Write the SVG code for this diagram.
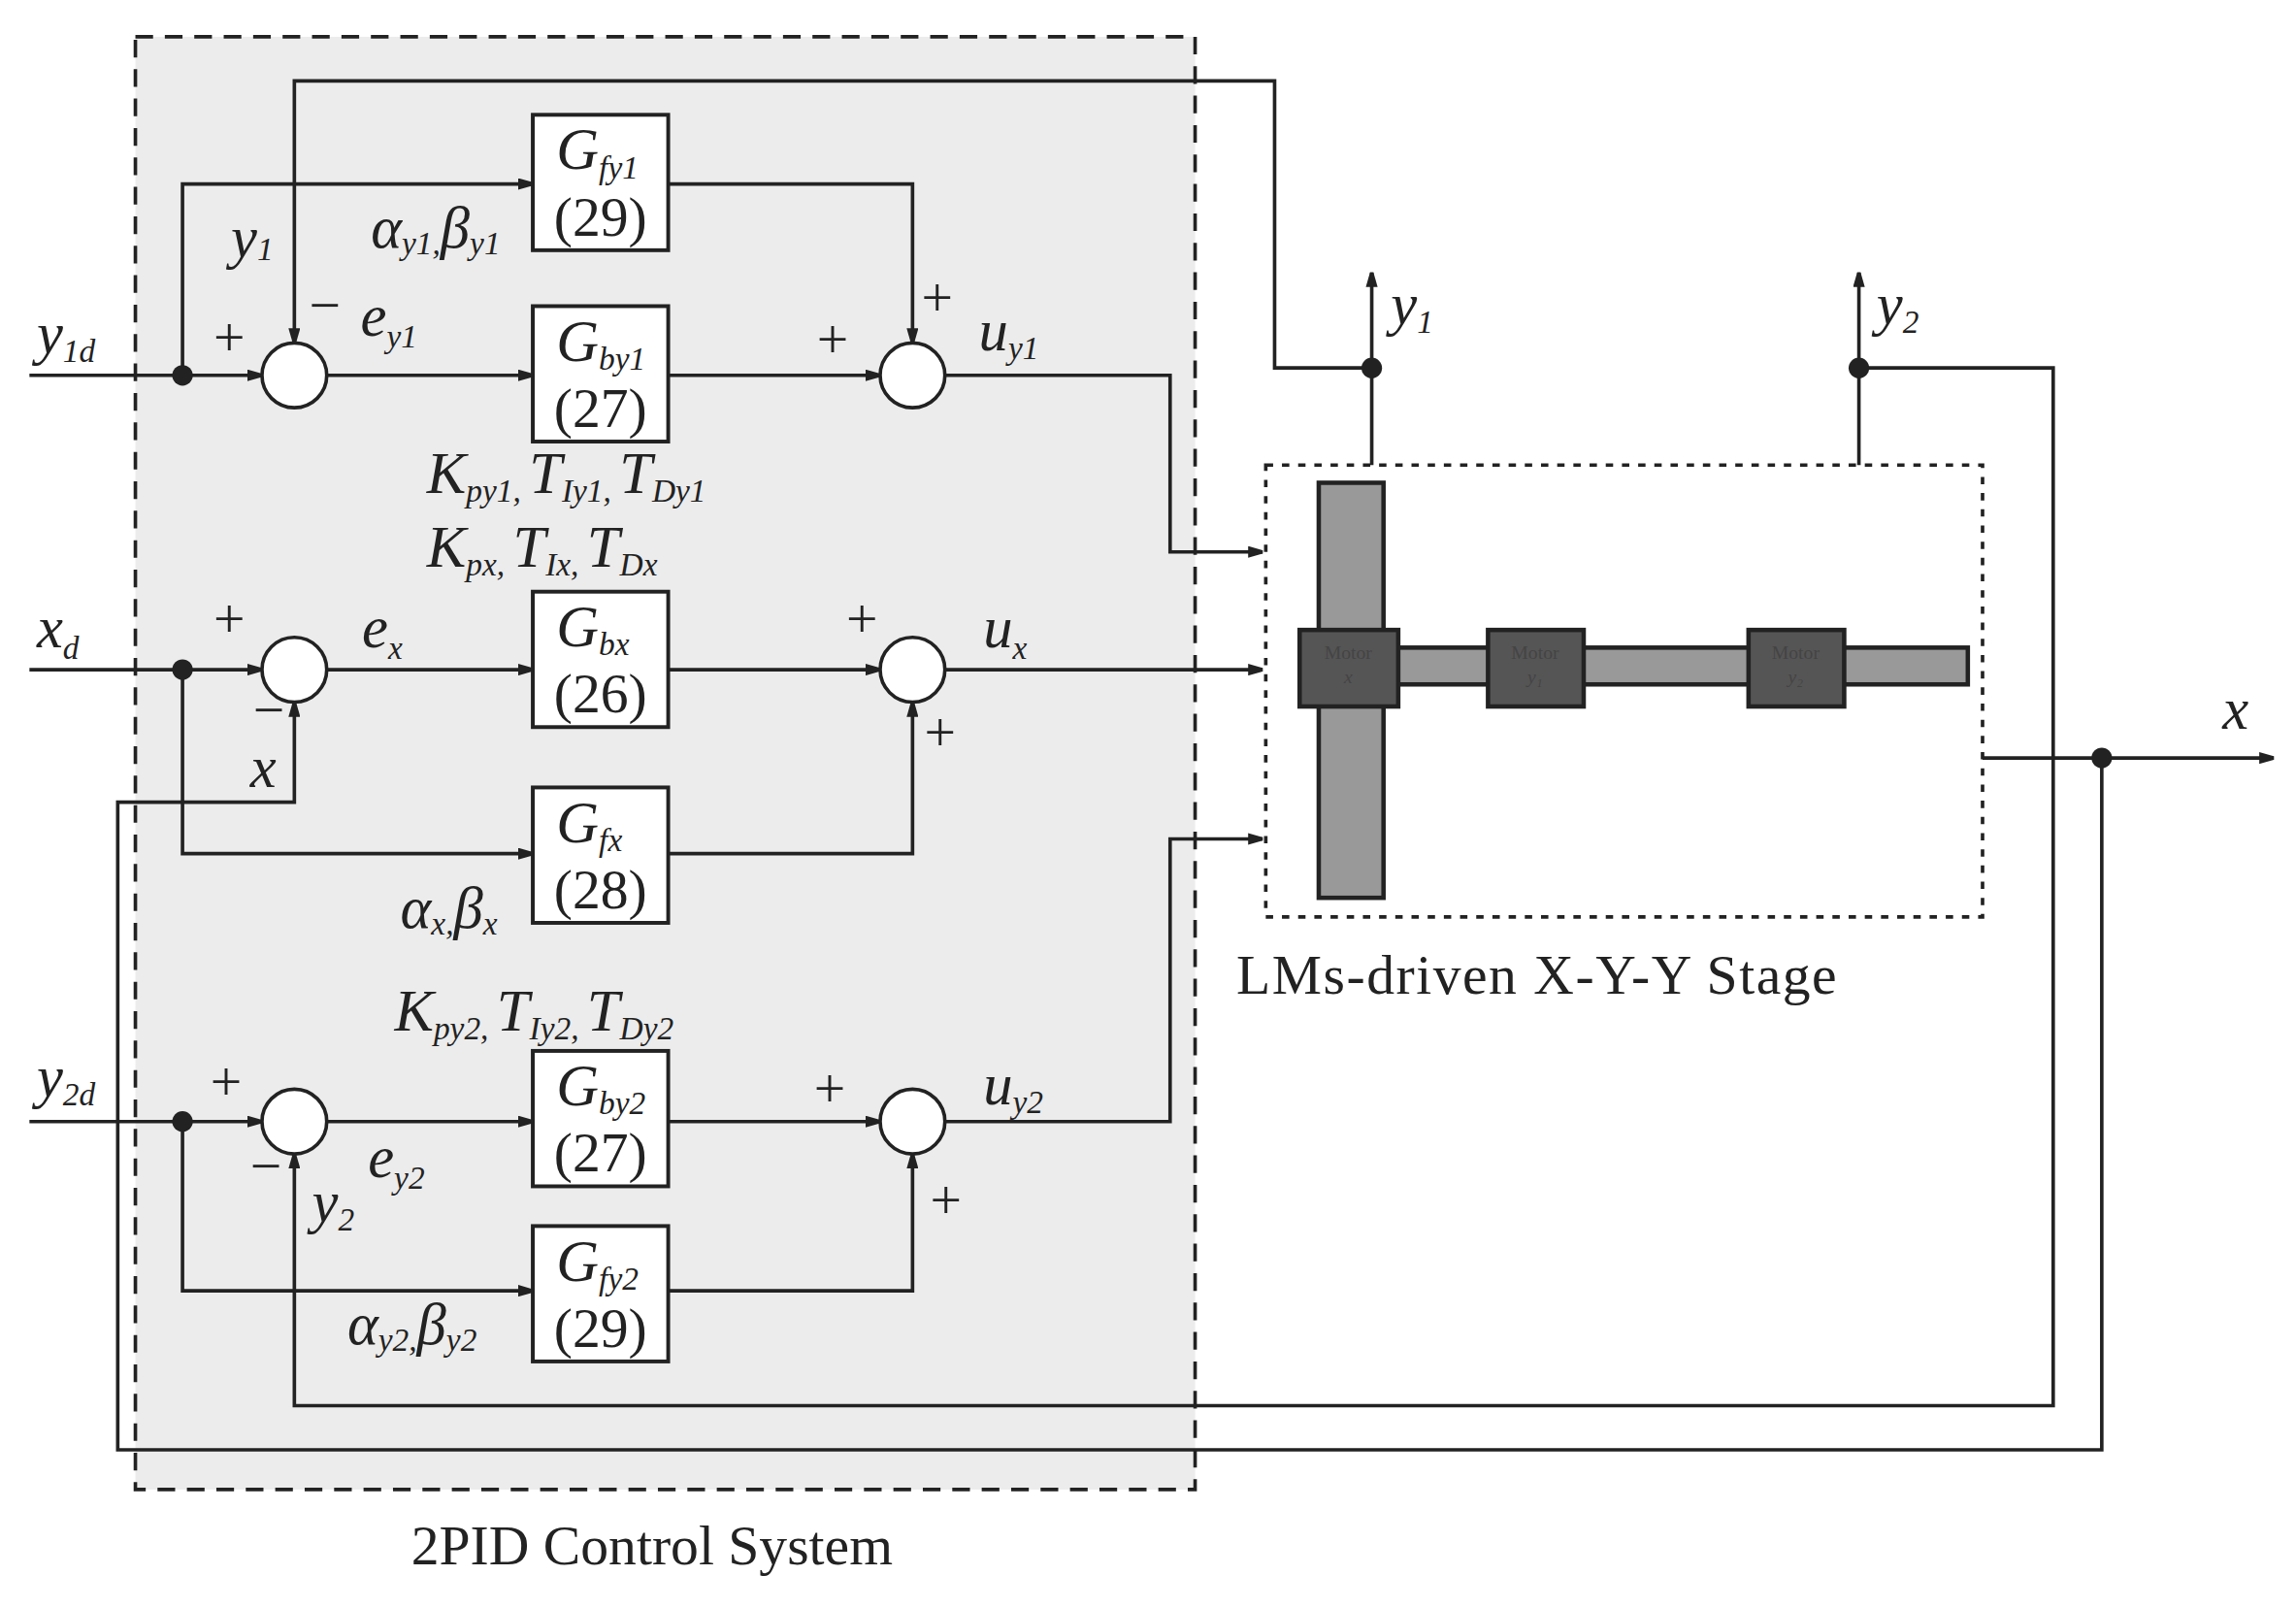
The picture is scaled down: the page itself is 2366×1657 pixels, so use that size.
<svg xmlns="http://www.w3.org/2000/svg" width="2366" height="1657" viewBox="0 0 2366 1657">
<style>
.w{fill:none;stroke:#222;stroke-width:2.4}
.b{fill:#fff;stroke:#222;stroke-width:2.6}
.t{font-family:"Liberation Serif",serif;font-style:italic;fill:#222;font-size:40px}
.n{font-family:"Liberation Serif",serif;fill:#222;font-size:38px}
.s{font-size:22px}
.p{font-family:"Liberation Sans",sans-serif;fill:#222;font-size:34px}
.m{font-family:"Liberation Serif",serif;fill:#444;font-size:13px;text-anchor:middle}
</style>
<defs><marker id="a" markerWidth="10" markerHeight="8" refX="10" refY="4" orient="auto" markerUnits="userSpaceOnUse"><path d="M0,0L14,4L0,8z" fill="#222"/></marker></defs>
<rect width="2366" height="1657" fill="#fff"/>
<g transform="scale(1.5167)">
<g id="pid"><rect x="92" y="25" width="720" height="987" fill="#ececec" stroke="#222" stroke-width="2.4" stroke-dasharray="12,8"/>
<text class="n" x="443" y="1063" text-anchor="middle" font-size="40">2PID Control System</text></g>
<g id="stage"><rect x="860" y="316" width="487" height="307" fill="#fff" stroke="#222" stroke-width="2.4" stroke-dasharray="5,6"/>
<rect x="896" y="328" width="44" height="282" fill="#999" stroke="#222" stroke-width="3"/>
<rect x="940" y="440" width="397" height="25" fill="#999" stroke="#222" stroke-width="3"/>
<rect x="883" y="428" width="67" height="52" fill="#555" stroke="#222" stroke-width="3"/>
<rect x="1011" y="428" width="65" height="52" fill="#555" stroke="#222" stroke-width="3"/>
<rect x="1188" y="428" width="65" height="52" fill="#555" stroke="#222" stroke-width="3"/>
<text class="m" x="916" y="448">Motor</text><text class="m" x="916" y="464" font-style="italic">x</text>
<text class="m" x="1043" y="448">Motor</text><text class="m" x="1043" y="464" font-style="italic">y₁</text>
<text class="m" x="1220" y="448">Motor</text><text class="m" x="1220" y="464" font-style="italic">y₂</text>
<text class="n" x="840" y="675" font-size="40" letter-spacing="1">LMs-driven X-Y-Y Stage</text></g>
<g id="gfy1"><rect class="b" x="362" y="78" width="92" height="92"/><text class="t" x="378" y="115" font-size="36">G<tspan class="s" font-size="18" dy="6">fy1</tspan></text><text class="n" x="408" y="160" text-anchor="middle">(29)</text></g>
<g id="gby1"><rect class="b" x="362" y="208" width="92" height="92"/><text class="t" x="378" y="245" font-size="36">G<tspan class="s" font-size="18" dy="6">by1</tspan></text><text class="n" x="408" y="290" text-anchor="middle">(27)</text></g>
<g id="gbx"><rect class="b" x="362" y="402" width="92" height="92"/><text class="t" x="378" y="439" font-size="36">G<tspan class="s" font-size="18" dy="6">bx</tspan></text><text class="n" x="408" y="484" text-anchor="middle">(26)</text></g>
<g id="gfx"><rect class="b" x="362" y="535" width="92" height="92"/><text class="t" x="378" y="572" font-size="36">G<tspan class="s" font-size="18" dy="6">fx</tspan></text><text class="n" x="408" y="617" text-anchor="middle">(28)</text></g>
<g id="gby2"><rect class="b" x="362" y="714" width="92" height="92"/><text class="t" x="378" y="751" font-size="36">G<tspan class="s" font-size="18" dy="6">by2</tspan></text><text class="n" x="408" y="796" text-anchor="middle">(27)</text></g>
<g id="gfy2"><rect class="b" x="362" y="833" width="92" height="92"/><text class="t" x="378" y="870" font-size="36">G<tspan class="s" font-size="18" dy="6">fy2</tspan></text><text class="n" x="408" y="915" text-anchor="middle">(29)</text></g>
<g id="sums" fill="#fff" stroke="#222" stroke-width="2.4">
<circle cx="200" cy="255" r="22"/><circle cx="620" cy="255" r="22"/>
<circle cx="200" cy="455" r="22"/><circle cx="620" cy="455" r="22"/>
<circle cx="200" cy="762" r="22"/><circle cx="620" cy="762" r="22"/></g>
<g id="connectors">
<path class="w" d="M20,255H178" marker-end="url(#a)"/>
<path class="w" d="M124,255V125H362" marker-end="url(#a)"/>
<path class="w" d="M222,255H362" marker-end="url(#a)"/>
<path class="w" d="M454,255H598" marker-end="url(#a)"/>
<path class="w" d="M454,125H620V233" marker-end="url(#a)"/>
<path class="w" d="M642,255H795V375H858" marker-end="url(#a)"/>
<path class="w" d="M932,250H866V55H200V233" marker-end="url(#a)"/>
<path class="w" d="M20,455H178" marker-end="url(#a)"/>
<path class="w" d="M124,455V580H362" marker-end="url(#a)"/>
<path class="w" d="M222,455H362" marker-end="url(#a)"/>
<path class="w" d="M454,455H598" marker-end="url(#a)"/>
<path class="w" d="M454,580H620V477" marker-end="url(#a)"/>
<path class="w" d="M642,455H858" marker-end="url(#a)"/>
<path class="w" d="M1428,515V985H80V545H200V477" marker-end="url(#a)"/>
<path class="w" d="M20,762H178" marker-end="url(#a)"/>
<path class="w" d="M124,762V877H362" marker-end="url(#a)"/>
<path class="w" d="M222,762H362" marker-end="url(#a)"/>
<path class="w" d="M454,762H598" marker-end="url(#a)"/>
<path class="w" d="M454,877H620V784" marker-end="url(#a)"/>
<path class="w" d="M642,762H795V570H858" marker-end="url(#a)"/>
<path class="w" d="M1263,250H1395V955H200V784" marker-end="url(#a)"/>
<path class="w" d="M932,316V185" marker-end="url(#a)"/>
<path class="w" d="M1263,316V185" marker-end="url(#a)"/>
<path class="w" d="M1347,515H1545" marker-end="url(#a)"/>
<g fill="#222"><circle cx="124" cy="255" r="7"/><circle cx="124" cy="455" r="7"/><circle cx="124" cy="762" r="7"/><circle cx="932" cy="250" r="7"/><circle cx="1263" cy="250" r="7"/><circle cx="1428" cy="515" r="7"/></g>
</g>
<g id="labels">
<text class="t" x="25" y="240">y<tspan class="s" dy="6">1d</tspan></text>
<text class="n" x="145" y="242">+</text><text class="n" x="210" y="220">−</text>
<text class="t" x="245" y="228">e<tspan class="s" dy="8">y1</tspan></text>
<text class="t" x="157" y="175">y<tspan class="s" dy="2">1</tspan></text>
<text class="t" x="252" y="168" font-size="30">α<tspan class="s" font-size="18" dy="5">y1,</tspan><tspan dy="-5">β</tspan><tspan class="s" font-size="18" dy="5">y1</tspan></text>
<text class="n" x="555" y="243">+</text><text class="n" x="626" y="215">+</text>
<text class="t" x="665" y="238">u<tspan class="s" dy="6">y1</tspan></text>
<text class="t" x="290" y="335" font-size="32">K<tspan class="s" font-size="18" dy="6">py1, </tspan><tspan dy="-6">T</tspan><tspan class="s" font-size="18" dy="6">Iy1, </tspan><tspan dy="-6">T</tspan><tspan class="s" font-size="18" dy="6">Dy1</tspan></text>
<text class="t" x="290" y="385" font-size="32">K<tspan class="s" font-size="18" dy="6">px, </tspan><tspan dy="-6">T</tspan><tspan class="s" font-size="18" dy="6">Ix, </tspan><tspan dy="-6">T</tspan><tspan class="s" font-size="18" dy="6">Dx</tspan></text>
<text class="t" x="25" y="440">x<tspan class="s" dy="8">d</tspan></text>
<text class="n" x="145" y="433">+</text><text class="n" x="172" y="495">−</text>
<text class="t" x="246" y="440">e<tspan class="s" dy="8">x</tspan></text>
<text class="t" x="170" y="535">x</text>
<text class="n" x="575" y="433">+</text><text class="n" x="628" y="510">+</text>
<text class="t" x="668" y="440">u<tspan class="s" dy="8">x</tspan></text>
<text class="t" x="272" y="630" font-size="30">α<tspan class="s" font-size="18" dy="5">x,</tspan><tspan dy="-5">β</tspan><tspan class="s" font-size="18" dy="5">x</tspan></text>
<text class="t" x="268" y="700" font-size="32">K<tspan class="s" font-size="18" dy="6">py2, </tspan><tspan dy="-6">T</tspan><tspan class="s" font-size="18" dy="6">Iy2, </tspan><tspan dy="-6">T</tspan><tspan class="s" font-size="18" dy="6">Dy2</tspan></text>
<text class="t" x="25" y="745">y<tspan class="s" dy="6">2d</tspan></text>
<text class="n" x="143" y="748">+</text><text class="n" x="170" y="805">−</text>
<text class="t" x="250" y="800">e<tspan class="s" dy="8">y2</tspan></text>
<text class="t" x="212" y="830">y<tspan class="s" dy="6">2</tspan></text>
<text class="n" x="553" y="752">+</text><text class="n" x="632" y="828">+</text>
<text class="t" x="668" y="750">u<tspan class="s" dy="6">y2</tspan></text>
<text class="t" x="236" y="913" font-size="30">α<tspan class="s" font-size="18" dy="5">y2,</tspan><tspan dy="-5">β</tspan><tspan class="s" font-size="18" dy="5">y2</tspan></text>
<text class="t" x="945" y="220">y<tspan class="s" dy="6">1</tspan></text>
<text class="t" x="1275" y="220">y<tspan class="s" dy="6">2</tspan></text>
<text class="t" x="1510" y="495">x</text>
</g>
</g>
</svg>
